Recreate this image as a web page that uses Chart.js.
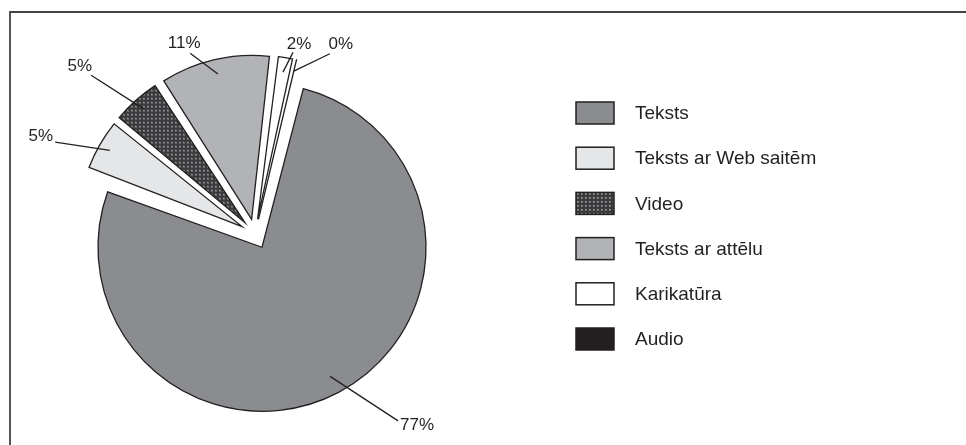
<!DOCTYPE html>
<html>
<head>
<meta charset="utf-8">
<script src="https://cdn.jsdelivr.net/npm/chart.js@4.4.1/dist/chart.umd.min.js"></script>
<style>
  html, body { margin: 0; padding: 0; background: #fff; }
  canvas { display: block; }
</style>
</head>
<body>
<canvas id="myChart" width="966" height="445"></canvas>
<script>
const categories = ['Teksts', 'Teksts ar Web saitēm', 'Video', 'Teksts ar attēlu', 'Karikatūra', 'Audio'];
const shares = [76.9, 5.2, 5.0, 10.9, 1.8, 0.2];

const ink = '#231f20';
const fontFamily = '"Liberation Sans", Arial, sans-serif';

const ctx = document.getElementById('myChart').getContext('2d');

// dotted fill used for "Video"
function dotPattern() {
    const tile = document.createElement('canvas');
    tile.width = 4;
    tile.height = 4;
    const g = tile.getContext('2d');
    g.fillStyle = '#3b3b3d';
    g.fillRect(0, 0, 4, 4);
    g.fillStyle = '#707173';
    g.fillRect(1, 1, 2, 2);
    g.fillStyle = '#a8a9ab';
    g.fillRect(1, 1, 1, 1);
    return ctx.createPattern(tile, 'repeat');
}

const sliceColors = ['#8b8c90', '#e5e6e8', dotPattern(), '#b2b3b6', '#ffffff', ink];

const toRad = deg => (deg - 90) * Math.PI / 180;

// thin frame round the figure (top and left edges show)
const framePlugin = {
    id: 'frame',
    beforeDraw(chart) {
        const c = chart.ctx;
        c.save();
        c.strokeStyle = '#444';
        c.lineWidth = 1.8;
        c.beginPath();
        c.moveTo(10, chart.height);
        c.lineTo(10, 12);
        c.lineTo(chart.width, 12);
        c.stroke();
        c.restore();
    }
};

// Chart.js grows offset arcs a little; keep every slice at the same radius
const evenRadiusPlugin = {
    id: 'evenRadius',
    beforeDatasetsDraw(chart) {
        const meta = chart.getDatasetMeta(0);
        const base = meta.controller.outerRadius;
        meta.data.forEach(arc => {
            const off = (arc.options.offset || 0) / 4;
            const circ = arc.endAngle - arc.startAngle;
            const fix = 1 - Math.sin(Math.min(Math.PI, circ));
            arc.outerRadius = base - off * fix;
        });
    }
};

const sliceLabelPlugin = {
    id: 'sliceLabels',
    afterDatasetsDraw(chart, args, opts) {
        const meta = chart.getDatasetMeta(0);
        const R = meta.controller.outerRadius;
        const values = chart.data.datasets[0].data;
        const total = values.reduce((a, b) => a + b, 0);
        const c = chart.ctx;
        c.save();
        c.strokeStyle = ink;
        c.fillStyle = ink;
        c.lineWidth = 1.3;
        c.font = opts.fontSize + 'px ' + fontFamily;
        c.textBaseline = 'middle';
        meta.data.forEach((arc, i) => {
            const half = (arc.startAngle + arc.endAngle) / 2;
            const off = (arc.options.offset || 0) / 4;
            const cx = arc.x + Math.cos(half) * off;
            const cy = arc.y + Math.sin(half) * off;
            const ax = cx + Math.cos(half) * R * opts.anchor[i];
            const ay = cy + Math.sin(half) * R * opts.anchor[i];
            const ea = toRad(opts.endAngle[i]);
            const ex = cx + Math.cos(ea) * R * opts.endRatio[i];
            const ey = cy + Math.sin(ea) * R * opts.endRatio[i];
            c.beginPath();
            c.moveTo(ax, ay);
            c.lineTo(ex, ey);
            c.stroke();
            const t = opts.text[i];
            c.textAlign = t[0];
            c.fillText(Math.round(values[i] / total * 100) + '%', ex + t[1], ey + t[2]);
        });
        c.restore();
    }
};

const sideLegendPlugin = {
    id: 'sideLegend',
    afterDraw(chart, args, opts) {
        const c = chart.ctx;
        const ds = chart.data.datasets[0];
        c.save();
        c.font = opts.fontSize + 'px ' + fontFamily;
        c.textBaseline = 'middle';
        c.textAlign = 'left';
        chart.data.labels.forEach((label, i) => {
            const top = opts.top + i * opts.step;
            c.fillStyle = ds.backgroundColor[i];
            c.fillRect(opts.x, top, opts.boxW, opts.boxH);
            c.strokeStyle = ink;
            c.lineWidth = 1.5;
            c.strokeRect(opts.x, top, opts.boxW, opts.boxH);
            c.fillStyle = ink;
            c.fillText(label, opts.textX, top + opts.boxH / 2 + 1);
        });
        c.restore();
    }
};

const config = {
    type: 'pie',
    data: {
        labels: categories,
        datasets: [{
            data: shares,
            backgroundColor: sliceColors,
            borderColor: ink,
            borderWidth: 1.3,
            borderJoinStyle: 'miter',
            offset: 60,
        }]
    },
    options: {
        responsive: false,
        devicePixelRatio: 1,
        animation: false,
        events: [],
        rotation: 13.76,
        radius: 164,
        layout: {
            padding: { left: 0, right: 456, top: 23, bottom: 0 }
        },
        plugins: {
            legend: { display: false },
            tooltip: { enabled: false },
            sliceLabels: {
                fontSize: 17,
                anchor: [0.89, 0.93, 0.93, 0.91, 0.91, 0.93],
                endAngle: [141.9, 294.3, 313.8, 339.7, 12.0, 23.3],
                endRatio: [1.345, 1.25, 1.30, 1.08, 1.04, 1.10],
                text: [['left', 2, 4], ['right', -2, -5.5], ['right', 1, -8.5],
                       ['center', -6, -9.5], ['center', 6, -8.5], ['center', 11, -9.5]]
            },
            sideLegend: {
                fontSize: 19,
                x: 576,
                textX: 635,
                top: 102,
                step: 45.2,
                boxW: 38,
                boxH: 22
            }
        }
    },
    plugins: [framePlugin, evenRadiusPlugin, sliceLabelPlugin, sideLegendPlugin]
};

new Chart(ctx, config);
</script>
</body>
</html>
